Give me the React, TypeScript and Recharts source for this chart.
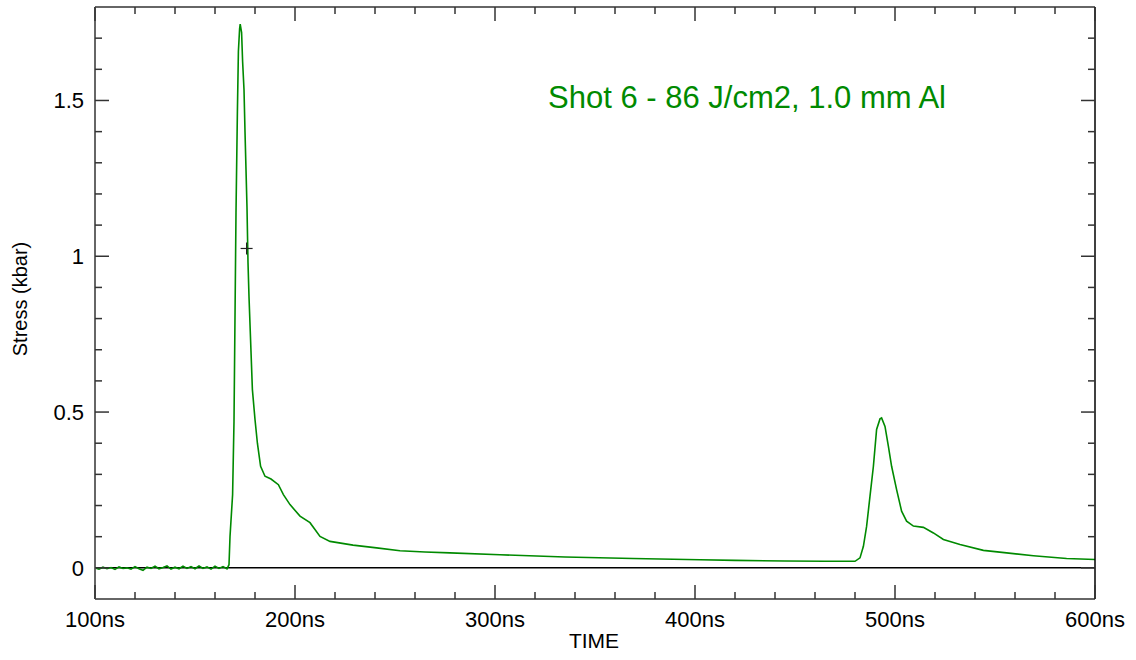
import React from 'react';
import {
  LineChart,
  Line,
  XAxis,
  YAxis,
  ReferenceLine,
  ReferenceDot,
  Customized,
} from 'recharts';

// time (ns) and stress (kbar)
const times = [
  100, 102, 104, 106, 108, 110, 112, 114, 116, 118, 120, 122, 124, 126, 128, 130, 132, 134,
  136, 138, 140, 142, 144, 146, 148, 150, 152, 154, 156, 158, 160, 162, 164, 166,
  167, 167.5, 168.8, 169.5, 170.5, 171.2, 171.7, 172.3, 172.6, 173.3, 173.8, 174.5, 175,
  175.5, 176, 176.5, 177, 178.7, 180, 181.2, 182.8, 185, 188, 191.7, 194.2, 197.5, 202.5,
  207.5, 212.5, 217.5, 229, 240.8, 252.5, 265, 277.5, 302.5, 335, 369, 402.5, 420, 445,
  465, 480, 482.5, 484.2, 485.8, 487.5, 489.2, 490.8, 492.5, 493.3, 495, 496.7, 498.3,
  500.8, 503.3, 505.8, 509.2, 514.2, 519.2, 524.2, 532.5, 544.2, 555.8, 569.2, 585.8, 600,
];

const stress = [
  0.0, -0.004, 0.002, -0.003, 0.001, -0.005, 0.003, -0.002, 0.0, -0.004, 0.004, -0.003,
  -0.008, 0.002, -0.002, 0.005, -0.003, 0.001, 0.006, -0.004, 0.002, -0.003, 0.005, -0.002,
  0.004, -0.003, 0.006, -0.002, 0.003, -0.004, 0.005, -0.002, 0.004, -0.003,
  0.01, 0.1, 0.235, 0.47, 1.14, 1.465, 1.658, 1.73, 1.745, 1.718, 1.626, 1.535, 1.4,
  1.278, 1.156, 0.98, 0.87, 0.572, 0.476, 0.4, 0.326, 0.294, 0.285, 0.267, 0.235, 0.203, 0.166,
  0.145, 0.101, 0.085, 0.073, 0.064, 0.055, 0.051, 0.048, 0.042, 0.035, 0.03, 0.026, 0.024, 0.022,
  0.021, 0.021, 0.032, 0.069, 0.133, 0.23, 0.326, 0.444, 0.478, 0.481, 0.454, 0.39, 0.326,
  0.251, 0.182, 0.15, 0.134, 0.13, 0.112, 0.091, 0.075, 0.056, 0.048, 0.039, 0.03, 0.027,
];

const xTicks = [
  100, 120, 140, 160, 180, 200, 220, 240, 260, 280, 300, 320, 340, 360, 380, 400, 420, 440,
  460, 480, 500, 520, 540, 560, 580, 600,
];
const yTicks = [0, 0.1, 0.2, 0.3, 0.4, 0.5, 0.6, 0.7, 0.8, 0.9, 1, 1.1, 1.2, 1.3, 1.4, 1.5, 1.6, 1.7];

const title = 'Shot 6 - 86 J/cm2, 1.0 mm Al';
const cursor = { t: 175.8, v: 1.025 };

const FONT = '"Liberation Sans", Arial, sans-serif';
const GREEN = '#008a00';
const TICK = '#333';

const isMajorX = (v: number) => v % 100 === 0;
const isMajorY = (v: number) => Math.abs(v * 2 - Math.round(v * 2)) < 1e-6;

const BottomTick = (props: any) => {
  const { x, y, payload } = props;
  const major = isMajorX(payload.value);
  return (
    <g>
      <line x1={x} x2={x} y1={y} y2={y - (major ? 14 : 7)} stroke={TICK} strokeWidth={1.5} />
      {major && (
        <text x={x} y={y + 28} textAnchor="middle" fontFamily={FONT} fontSize={22} fill="#000">
          {`${payload.value}ns`}
        </text>
      )}
    </g>
  );
};

const TopTick = (props: any) => {
  const { x, y, payload } = props;
  const major = isMajorX(payload.value);
  return <line x1={x} x2={x} y1={y} y2={y + (major ? 14 : 7)} stroke={TICK} strokeWidth={1.5} />;
};

const LeftTick = (props: any) => {
  const { x, y, payload } = props;
  const major = isMajorY(payload.value);
  return (
    <g>
      <line x1={x} x2={x + (major ? 14 : 7)} y1={y} y2={y} stroke={TICK} strokeWidth={1.5} />
      {major && (
        <text x={x - 11} y={y + 8} textAnchor="end" fontFamily={FONT} fontSize={22} fill="#000">
          {String(Math.round(payload.value * 10) / 10)}
        </text>
      )}
    </g>
  );
};

const RightTick = (props: any) => {
  const { x, y, payload } = props;
  const major = isMajorY(payload.value);
  return <line x1={x} x2={x - (major ? 14 : 7)} y1={y} y2={y} stroke={TICK} strokeWidth={1.5} />;
};

const Cross = (props: any) => {
  const { cx, cy } = props;
  return (
    <g stroke="#222" strokeWidth={1.2}>
      <line x1={cx - 6} x2={cx + 6} y1={cy} y2={cy} />
      <line x1={cx} x2={cx} y1={cy - 6} y2={cy + 6} />
    </g>
  );
};

const Texts = () => (
  <g fontFamily={FONT}>
    <text x={548} y={108} fontSize={31} fill={GREEN}>
      {title}
    </text>
    <text x={594} y={648} fontSize={21} textAnchor="middle" fill="#000">
      TIME
    </text>
    <text
      x={27}
      y={299}
      fontSize={20}
      textAnchor="middle"
      fill="#000"
      transform="rotate(-90 27 299)"
    >
      Stress (kbar)
    </text>
  </g>
);

export default function App() {
  const data = times.map((t, i) => ({ t, v: stress[i] }));

  return (
    <div style={{ position: 'absolute', left: 0, top: 0, background: '#fff' }}>
      <LineChart
        width={1136}
        height={660}
        data={data}
        margin={{ top: 6, right: 40, bottom: 0, left: 0 }}
      >
        <XAxis
          xAxisId="b"
          dataKey="t"
          type="number"
          domain={[100, 600]}
          ticks={xTicks}
          interval={0}
          allowDataOverflow
          orientation="bottom"
          height={61}
          tickSize={0}
          tickMargin={0}
          tickLine={false}
          axisLine={{ stroke: '#666', strokeWidth: 2 }}
          tick={<BottomTick />}
        />
        <XAxis
          xAxisId="t"
          dataKey="t"
          type="number"
          domain={[100, 600]}
          ticks={xTicks}
          interval={0}
          allowDataOverflow
          orientation="top"
          height={1}
          tickSize={0}
          tickMargin={0}
          tickLine={false}
          axisLine={{ stroke: '#666', strokeWidth: 2 }}
          tick={<TopTick />}
        />
        <YAxis
          yAxisId="l"
          type="number"
          domain={[-0.1, 1.8]}
          ticks={yTicks}
          interval={0}
          allowDataOverflow
          orientation="left"
          width={95}
          tickSize={0}
          tickMargin={0}
          tickLine={false}
          axisLine={{ stroke: '#666', strokeWidth: 2 }}
          tick={<LeftTick />}
        />
        <YAxis
          yAxisId="r"
          type="number"
          domain={[-0.1, 1.8]}
          ticks={yTicks}
          interval={0}
          allowDataOverflow
          orientation="right"
          width={1}
          tickSize={0}
          tickMargin={0}
          tickLine={false}
          axisLine={{ stroke: '#000', strokeWidth: 1.5 }}
          tick={<RightTick />}
        />
        <ReferenceLine xAxisId="b" yAxisId="l" y={0} stroke="#000" strokeWidth={1.5} />
        <Line
          xAxisId="b"
          yAxisId="l"
          type="linear"
          dataKey="v"
          stroke={GREEN}
          strokeWidth={1.6}
          dot={false}
          isAnimationActive={false}
        />
        <ReferenceDot
          xAxisId="b"
          yAxisId="l"
          x={cursor.t}
          y={cursor.v}
          shape={<Cross />}
        />
        <Customized component={Texts} />
      </LineChart>
    </div>
  );
}
